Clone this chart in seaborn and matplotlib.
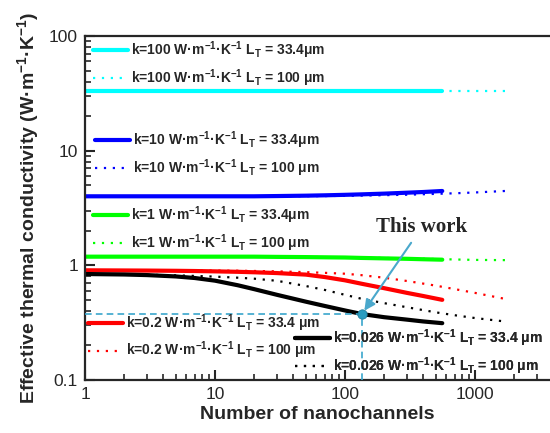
import numpy as np
import pandas as pd
import matplotlib
matplotlib.use("Agg")
import matplotlib.pyplot as plt
import matplotlib.ticker as mticker
import seaborn as sns

# ---------------- data ----------------
# L_T = 33.4 um (solid) and L_T = 100 um (dotted)
n_short = [1, 2, 3, 5, 7, 10, 15, 20, 30, 50, 70, 100, 135, 200, 300, 400, 560]
n_long = [1, 2, 3, 5, 7, 10, 15, 20, 30, 50, 70, 100, 135, 200, 300, 500, 700, 1000, 1700]

k100_s = [33.0] * 17
k100_l = [33.0] * 19
k10_s = [4.0, 4.0, 4.0, 4.0, 4.0, 4.0, 4.0, 4.0, 4.02, 4.05, 4.08, 4.12, 4.16, 4.22, 4.3, 4.36, 4.45]
k10_l = [4.0, 4.0, 4.0, 4.0, 4.0, 4.0, 4.0, 4.0, 4.0, 4.01, 4.02, 4.04, 4.06, 4.09, 4.13, 4.2, 4.25, 4.32, 4.45]
k1_s = [1.19, 1.19, 1.19, 1.19, 1.19, 1.19, 1.19, 1.19, 1.185, 1.18, 1.175, 1.17, 1.16, 1.15, 1.14, 1.13, 1.12]
k1_l = [1.19, 1.19, 1.19, 1.19, 1.19, 1.19, 1.19, 1.19, 1.19, 1.185, 1.18, 1.175, 1.17, 1.16, 1.15, 1.135, 1.125, 1.115, 1.11]
k02_s = [0.905, 0.902, 0.9, 0.896, 0.892, 0.886, 0.878, 0.87, 0.856, 0.83, 0.79, 0.74, 0.69, 0.632, 0.575, 0.54, 0.50]
k02_l = [0.905, 0.904, 0.903, 0.902, 0.901, 0.9, 0.897, 0.893, 0.886, 0.872, 0.86, 0.845, 0.82, 0.78, 0.73, 0.665, 0.62, 0.575, 0.51]
k0026_s = [0.84, 0.832, 0.822, 0.80, 0.775, 0.735, 0.67, 0.62, 0.553, 0.482, 0.442, 0.404, 0.376, 0.353, 0.336, 0.324, 0.313]
k0026_l = [0.84, 0.834, 0.828, 0.818, 0.808, 0.797, 0.78, 0.765, 0.733, 0.66, 0.61, 0.553, 0.51, 0.468, 0.431, 0.389, 0.367, 0.347, 0.324]

work_n = 135
work_k = 0.375

labels = [
    ("k=100 W·m$^{-1}$·K$^{-1}$ L$_{T}$ = 33.4μm", "k=100 W·m$^{-1}$·K$^{-1}$ L$_{T}$ = 100 μm"),
    ("k=10 W·m$^{-1}$·K$^{-1}$ L$_{T}$ = 33.4μm", "k=10 W·m$^{-1}$·K$^{-1}$ L$_{T}$ = 100 μm"),
    ("k=1 W·m$^{-1}$·K$^{-1}$ L$_{T}$ = 33.4μm", "k=1 W·m$^{-1}$·K$^{-1}$ L$_{T}$ = 100 μm"),
    ("k=0.2 W·m$^{-1}$·K$^{-1}$ L$_{T}$ = 33.4 μm", "k=0.2 W·m$^{-1}$·K$^{-1}$ L$_{T}$ = 100 μm"),
    ("k=0.026 W·m$^{-1}$·K$^{-1}$ L$_{T}$ = 33.4 μm", "k=0.026 W·m$^{-1}$·K$^{-1}$ L$_{T}$ = 100 μm"),
]
series = [
    ("#00FFFF", k100_s, k100_l),
    ("#0000FF", k10_s, k10_l),
    ("#00FF00", k1_s, k1_l),
    ("#FF0000", k02_s, k02_l),
    ("#000000", k0026_s, k0026_l),
]
# legend anchor (axes fraction) for each pair
legend_pos = [(0.017, 0.919), (0.022, 0.657), (0.017, 0.439), (0.006, 0.126), (0.452, 0.080)]

# ---------------- style ----------------
sns.set_style("ticks")
plt.rcParams["font.family"] = ["Liberation Sans", "DejaVu Sans"]
plt.rcParams["mathtext.default"] = "regular"
plt.rcParams["axes.linewidth"] = 1.6

fig = plt.figure(figsize=(5.5, 4.33), dpi=100)
ax = fig.add_axes([85 / 550, 53 / 433, 1 - 85 / 550, 344 / 433])
ax.set_xscale("log")
ax.set_yscale("log")

dot_style = (0, (1, 3))
handles = []
for color, ys, yl in series:
    sns.lineplot(x=n_long, y=yl, ax=ax, color=color, lw=1.6, linestyle=dot_style,
                 estimator=None, sort=False)
    h_dot = ax.lines[-1]
    sns.lineplot(x=n_short, y=ys, ax=ax, color=color, lw=3.0,
                 estimator=None, sort=False)
    h_sol = ax.lines[-1]
    handles.append((h_sol, h_dot))

# "This work" marker and guides
guide_col = "#3AA6CC"
ax.hlines(work_k, 1, work_n, colors=guide_col, linestyles=(0, (4, 2.5)), lw=1.2, zorder=3)
ax.vlines(work_n, 0.1, work_k, colors=guide_col, linestyles=(0, (4, 2.5)), lw=1.2, zorder=3)
sns.scatterplot(x=[work_n], y=[work_k], ax=ax, color="#2A9CC0", s=45,
                edgecolor="#1F7F9F", linewidth=0.6, zorder=5)
ax.annotate("This work", xy=(work_n, work_k), xytext=(390, 2.15),
            ha="center", va="center", fontsize=15, fontweight="bold",
            family=["Liberation Serif", "DejaVu Serif"],
            arrowprops=dict(arrowstyle="-|>", color="#4AA8CC", lw=1.5,
                            mutation_scale=16, shrinkA=2, shrinkB=3))

# legends
for (h_sol, h_dot), (l1, l2), (px, py) in zip(handles, labels, legend_pos):
    leg = ax.legend(handles=[h_sol, h_dot], labels=[l1, l2], loc="center left",
                    bbox_to_anchor=(px, py), frameon=False, borderpad=0,
                    borderaxespad=0, handlelength=2.5, handletextpad=0.25,
                    labelspacing=0.45, prop={"size": 10, "weight": "bold"})
    ax.add_artist(leg)

# axes
ax.set_xlim(1, 10 ** (465 / 130))
ax.set_ylim(0.1, 100)
ax.xaxis.set_major_locator(mticker.FixedLocator([1, 10, 100, 1000]))
ax.xaxis.set_major_formatter(mticker.FuncFormatter(lambda v, _: f"{v:g}"))
ax.yaxis.set_major_formatter(mticker.FuncFormatter(lambda v, _: f"{v:g}"))
ax.xaxis.set_minor_locator(mticker.LogLocator(base=10, subs=np.arange(2, 10)))
ax.yaxis.set_minor_locator(mticker.LogLocator(base=10, subs=np.arange(2, 10)))
ax.xaxis.set_minor_formatter(mticker.NullFormatter())
ax.yaxis.set_minor_formatter(mticker.NullFormatter())
ax.tick_params(which="major", direction="in", length=7, width=1.5, labelsize=12.5, pad=5,
               top=False, right=False)
ax.tick_params(which="minor", direction="in", length=4, width=1.2, top=False, right=False)
ax.spines["right"].set_visible(False)

ax.set_xlabel("Number of nanochannels", fontsize=14, fontweight="bold", labelpad=3)
ax.set_ylabel("Effective thermal conductivity (W·m$^{-1}$·K$^{-1}$)", fontsize=14,
              fontweight="bold", labelpad=6)

fig.savefig("out.png", dpi=100)
